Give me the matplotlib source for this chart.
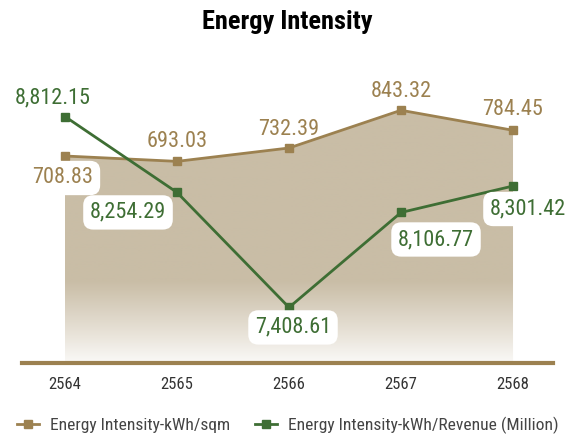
import matplotlib
matplotlib.use('Agg')
import matplotlib.pyplot as plt
import numpy as np
from matplotlib.colors import LinearSegmentedColormap

plt.rcParams['font.family'] = ['Roboto Condensed', 'Archivo Narrow', 'DejaVu Sans']

years = ['2564', '2565', '2566', '2567', '2568']
kwh_sqm = [708.83, 693.03, 732.39, 843.32, 784.45]
kwh_revenue = [8812.15, 8254.29, 7408.61, 8106.77, 8301.42]

# label offsets in pixels (dx, dy) relative to each point
sqm_offsets = [(-2, -22), (0, 20), (0, 18), (0, 19), (0, 21)]
rev_offsets = [(-12, 19), (-49, -20), (4, -20), (35, -27), (15, -23)]

TAN = '#9c8150'
GREEN = '#3e6e34'
FILL = '#c9bda6'

fig = plt.figure(figsize=(5.75, 4.37), dpi=100)
ax = fig.add_axes([22 / 575, 1 - 363 / 437, 531 / 575, 272 / 437])
ax2 = ax.twinx()

x = np.arange(len(years))
xlim = (-0.384, 4.357)

# gradient area under the kWh/sqm line
poly = ax.fill_between(x, kwh_sqm, 100, color='none', lw=0)
cmap = LinearSegmentedColormap.from_list(
    'g', [(0, '#faf9f7'), (0.12, '#e6e0d5'), (0.3, FILL), (1, FILL)])
grad = np.linspace(0, 1, 256).reshape(-1, 1)
im = ax.imshow(grad, cmap=cmap, aspect='auto', origin='lower',
               extent=[xlim[0], xlim[1], 100, 900], zorder=1)
im.set_clip_path(poly.get_paths()[0], transform=ax.transData)
ax.set_xlim(*xlim)
ax.set_ylim(100, 900)
ax2.set_ylim(7000, 9000)

ax.plot(x, kwh_sqm, color=TAN, lw=2, marker='s', ms=6, zorder=3,
        label='Energy Intensity-kWh/sqm')
ax2.plot(x, kwh_revenue, color=GREEN, lw=2, marker='s', ms=6, zorder=3,
         label='Energy Intensity-kWh/Revenue (Million)')

box = dict(boxstyle='round,pad=0.3,rounding_size=0.45', fc='white', ec='none')
for i, (xi, v, (dx, dy)) in enumerate(zip(x, kwh_sqm, sqm_offsets)):
    ax2.annotate(f'{v:,.2f}', (xi, 7000 + (v - 100) * 2.5), xytext=(dx, dy),
                 textcoords='offset pixels', ha='center', va='center',
                 fontsize=16, color=TAN, bbox=box if i == 0 else None, zorder=5)
for i, (xi, v, (dx, dy)) in enumerate(zip(x, kwh_revenue, rev_offsets)):
    ax2.annotate(f'{v:,.2f}', (xi, v), xytext=(dx, dy),
                 textcoords='offset pixels', ha='center', va='center',
                 fontsize=16, color=GREEN, bbox=box if i > 0 else None, zorder=5)

for a in (ax, ax2):
    for s in ['top', 'right', 'left']:
        a.spines[s].set_visible(False)
    a.set_yticks([])
ax2.spines['bottom'].set_visible(False)
ax.spines['bottom'].set_color(TAN)
ax.spines['bottom'].set_linewidth(3)

ax.set_xticks(x)
ax.set_xticklabels(years, fontsize=12, color='#333333')
ax.tick_params(axis='x', length=0, pad=10)

fig.text(0.5, 1 - 22 / 437, 'Energy Intensity', ha='center', va='center',
         fontsize=19, fontweight='bold', color='black',
         family=['Roboto Condensed', 'Asap Condensed', 'DejaVu Sans'])

h1, l1 = ax.get_legend_handles_labels()
h2, l2 = ax2.get_legend_handles_labels()
fig.legend(h1 + h2, l1 + l2, loc='center', bbox_to_anchor=(0.5, 1 - 425 / 437),
           ncol=2, frameon=False, fontsize=12.6, labelcolor='#444444',
           handlelength=1.3, handletextpad=0.6, columnspacing=1.4)

fig.savefig('out.png', dpi=100)
